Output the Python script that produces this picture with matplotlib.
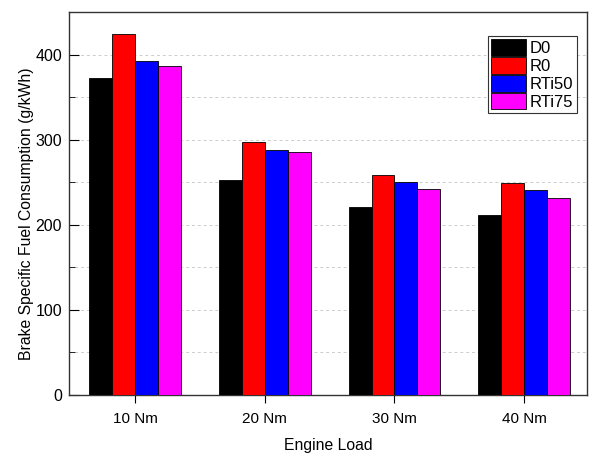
import numpy as np
import matplotlib.pyplot as plt
from matplotlib.ticker import MultipleLocator

plt.rcParams['font.family'] = ['Liberation Sans', 'DejaVu Sans']

loads = ["10 Nm", "20 Nm", "30 Nm", "40 Nm"]
d0 = [372, 253, 221, 212]
r0 = [424, 297, 259, 249]
rti50 = [392, 288, 250, 241]
rti75 = [387, 285, 242, 232]

series = [("D0", d0, "#000000"), ("R0", r0, "#ff0000"),
          ("RTi50", rti50, "#0000ff"), ("RTi75", rti75, "#ff00ff")]

fig = plt.figure(figsize=(5.89, 4.53), dpi=100)
ax = fig.add_axes([69 / 589, 1 - 395 / 453, 518 / 589, 383 / 453])

x = np.arange(1, len(loads) + 1)
w = 0.177
for i, (name, vals, col) in enumerate(series):
    ax.bar(x + (i - 1.5) * w, vals, w, color=col, edgecolor="black",
           linewidth=0.6, label=name, zorder=3)

ax.set_xlim(0.49, 4.485)
ax.set_ylim(0, 450)
ax.set_xticks(x)
ax.set_xticklabels(loads)
ax.yaxis.set_major_locator(MultipleLocator(100))
ax.yaxis.set_minor_locator(MultipleLocator(50))
ax.grid(axis="y", which="both", ls=(0, (3, 3)), color="#cccccc", lw=0.7, zorder=0)
ax.tick_params(axis="y", which="major", direction="in", length=7, labelsize=11.5, pad=5)
ax.tick_params(axis="y", which="minor", direction="in", length=4)
ax.tick_params(axis="x", direction="out", length=6, labelsize=11, pad=6)
for s in ax.spines.values():
    s.set_color("#333333")
    s.set_linewidth(1.0)

ax.set_xlabel("Engine Load", fontsize=11.3, labelpad=9)
ax.set_ylabel("Brake Specific Fuel Consumption (g/kWh)", fontsize=11.3)
ax.yaxis.set_label_coords(-0.068, 0.473)

leg = ax.legend(loc="upper right", bbox_to_anchor=(0.98, 0.937), fontsize=12,
                handlelength=2.1, handleheight=1.15, labelspacing=0.05,
                handletextpad=0.2, borderpad=0.2, borderaxespad=0.0,
                fancybox=False, framealpha=1)
leg.get_frame().set_edgecolor("#333333")
leg.get_frame().set_linewidth(0.8)

fig.savefig("out.png", dpi=100)
